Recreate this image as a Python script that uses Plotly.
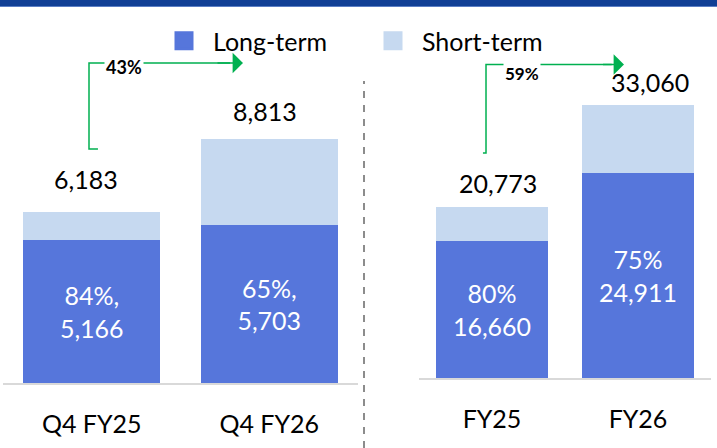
import plotly.graph_objects as go

# ---- data ----
categories_q = ["Q4 FY25", "Q4 FY26"]
long_q = [5166, 5703]
short_q = [1017, 3110]
categories_fy = ["FY25", "FY26"]
long_fy = [16660, 24911]
short_fy = [4113, 8149]
series_names = ["Long-term", "Short-term"]

total_q = [a + b for a, b in zip(long_q, short_q)]
total_fy = [a + b for a, b in zip(long_fy, short_fy)]

# ---- style ----
C_LONG = "#5676DB"
C_SHORT = "#C6D9F0"
C_GREEN = "#00B050"
FONT = "Lato"
FS = 25
W, H = 717, 448

def pct(part, whole):
    return round(100 * part / whole)

text_q = [f"{pct(l, t)}%,<br>{l:,}" for l, t in zip(long_q, total_q)]
text_fy = [f"{pct(l, t)}%<br>{l:,}" for l, t in zip(long_fy, total_fy)]

fig = go.Figure()
common_in = dict(textposition="inside", insidetextanchor="middle", constraintext="none",
                 textangle=0, textfont=dict(family=FONT, size=FS, color="white"),
                 hoverinfo="skip")
fig.add_trace(go.Bar(x=categories_q, y=long_q, text=text_q, marker=dict(color=C_LONG, line=dict(width=0)),
                     name=series_names[0], showlegend=False, xaxis="x", yaxis="y", **common_in))
fig.add_trace(go.Bar(x=categories_q, y=short_q, marker=dict(color=C_SHORT, line=dict(width=0)),
                     name=series_names[1], showlegend=False, xaxis="x", yaxis="y", hoverinfo="skip"))
fig.add_trace(go.Bar(x=categories_fy, y=long_fy, text=text_fy, marker=dict(color=C_LONG, line=dict(width=0)),
                     name=series_names[0], showlegend=False, xaxis="x2", yaxis="y2", **common_in))
fig.add_trace(go.Bar(x=categories_fy, y=short_fy, marker=dict(color=C_SHORT, line=dict(width=0)),
                     name=series_names[1], showlegend=False, xaxis="x2", yaxis="y2", hoverinfo="skip"))
# legend entries
for nm, col in zip(series_names, [C_LONG, C_SHORT]):
    fig.add_trace(go.Scatter(x=[None], y=[None], mode="markers", name=nm,
                             marker=dict(symbol="square", size=16, color=col, line=dict(color=col, width=3)),
                             xaxis="x", yaxis="y"))

# axis geometry (pixels)
left_dom = [3 / W, 358 / W]
right_dom = [419 / W, 711 / W]
base_l, base_r = 383, 378.3
scale_l = 0.02767     # px per unit
scale_r = 0.008257

xcommon = dict(showline=True, linecolor="#D9D9D9", linewidth=2, ticks="", showgrid=False,
               zeroline=False, tickfont=dict(family=FONT, size=FS, color="black"),
               ticklabelstandoff=18, fixedrange=True)
ycommon = dict(visible=False, showgrid=False, zeroline=False, fixedrange=True)

fig.update_layout(
    width=W, height=H, autosize=False,
    margin=dict(l=0, r=0, t=0, b=0, pad=0),
    paper_bgcolor="white", plot_bgcolor="white",
    barmode="stack", bargap=0.23,
    font=dict(family=FONT, size=FS, color="black"),
    xaxis=dict(domain=left_dom, anchor="y", **xcommon),
    yaxis=dict(domain=[(H - base_l) / H, 1], range=[0, base_l / scale_l], anchor="x", **ycommon),
    xaxis2=dict(domain=right_dom, anchor="y2", **xcommon),
    yaxis2=dict(domain=[(H - base_r) / H, 1], range=[0, base_r / scale_r], anchor="x2", **ycommon),
    legend=dict(orientation="h", x=155 / W, y=1 - 18 / H, xanchor="left", yanchor="top",
                font=dict(family=FONT, size=FS, color="black"), itemsizing="trace",
                itemwidth=48, traceorder="normal", entrywidth=146, bgcolor="rgba(0,0,0,0)"),
    showlegend=True,
)

# total labels above bars
shift_x = [[-6, -4.5], [5.5, 12]]
shift_y = [[33, 28], [24, 23.5]]
anns = []
for i, (cats, tots, xr, yr) in enumerate([(categories_q, total_q, "x", "y"), (categories_fy, total_fy, "x2", "y2")]):
    for j, (c, t) in enumerate(zip(cats, tots)):
        anns.append(dict(x=c, y=t, xref=xr, yref=yr, text=f"{t:,}", showarrow=False,
                         xanchor="center", yanchor="middle", xshift=shift_x[i][j], yshift=shift_y[i][j],
                         font=dict(family=FONT, size=FS, color="black")))

# growth brackets
g_q = round(100 * (total_q[1] / total_q[0] - 1))
g_fy = round(100 * (total_fy[1] / total_fy[0] - 1))

shapes = []
# left bracket (data coords of left axes)
lx0, lx1, ltip = -0.0155, 0.035, 0.852
ly0, ly1 = 8457, 11565
shapes.append(dict(type="path", xref="x", yref="y",
                   path=f"M {lx1},{ly0} L {lx0},{ly0} L {lx0},{ly1} L 0.78,{ly1}",
                   line=dict(color=C_GREEN, width=1.5)))
anns.append(dict(x=ltip, y=ly1, ax=0.70, ay=ly1, xref="x", yref="y", axref="x", ayref="y",
                 text="", showarrow=True, arrowhead=1, arrowsize=2.3, arrowwidth=1.5,
                 arrowcolor=C_GREEN, standoff=0))
anns.append(dict(x=(103 + 144) / 2, y=66.5, xref="paper", yref="paper", text=f"<b>{g_q}%</b>",
                 showarrow=False, bgcolor="white", borderpad=1, xanchor="center", yanchor="middle",
                 font=dict(family=FONT, size=18, color="black")))
# right bracket
rx0, rx1, rtip = -0.041, -0.062, 0.904
ry0, ry1 = 27286, 38004
shapes.append(dict(type="path", xref="x2", yref="y2",
                   path=f"M {rx1},{ry0} L {rx0},{ry0} L {rx0},{ry1} L 0.82,{ry1}",
                   line=dict(color=C_GREEN, width=1.5)))
anns.append(dict(x=rtip, y=ry1, ax=0.75, ay=ry1, xref="x2", yref="y2", axref="x2", ayref="y2",
                 text="", showarrow=True, arrowhead=1, arrowsize=2.3, arrowwidth=1.5,
                 arrowcolor=C_GREEN, standoff=0))
anns.append(dict(x=521.5, y=74, xref="paper", yref="paper", text=f"<b>{g_fy}%</b>",
                 showarrow=False, bgcolor="white", borderpad=1, xanchor="center", yanchor="middle",
                 font=dict(family=FONT, size=17, color="black")))

# convert pixel-positioned label annotations to paper fractions
for a in anns:
    if a.get("xref") == "paper" and a["x"] > 1:
        a["x"] = a["x"] / W
        a["y"] = 1 - a["y"] / H

# divider and top band
shapes.append(dict(type="line", xref="paper", yref="paper", x0=364 / W, x1=364 / W,
                   y0=0, y1=1 - 81 / H, line=dict(color="#8C8C8C", width=2, dash="7px,7px")))
shapes.append(dict(type="rect", xref="paper", yref="paper", x0=0, x1=1, y0=1 - 6 / H, y1=1,
                   fillcolor="#113F95", line=dict(width=0)))
shapes.append(dict(type="line", xref="paper", yref="paper", x0=0, x1=1, y0=1 - 6.5 / H, y1=1 - 6.5 / H,
                   line=dict(color="#5B7EC4", width=1)))

fig.update_layout(shapes=shapes, annotations=anns)
fig.write_html("out.html", config={"displayModeBar": False},
               post_script="document.body.style.margin='0';document.body.style.padding='0';")
